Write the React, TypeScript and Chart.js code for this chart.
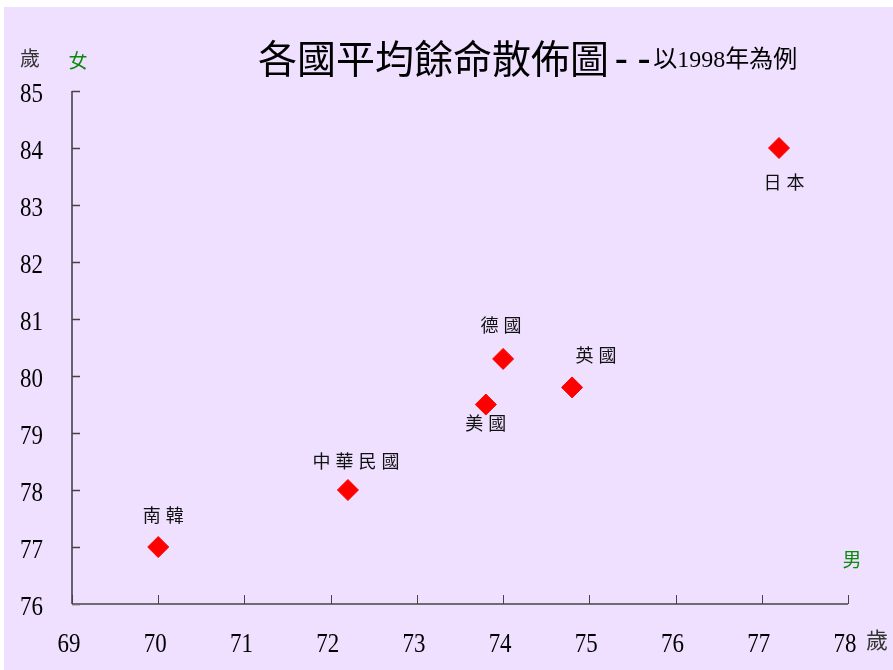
import React, { useEffect, useRef } from 'react';
import { Chart, registerables } from 'chart.js';

Chart.register(...registerables);

const countries = ['南韓', '中華民國', '美國', '德國', '英國', '日本'];
const maleLife = [70.0, 72.2, 73.8, 74.0, 74.8, 77.2];
const femaleLife = [77.0, 78.0, 79.5, 80.3, 79.8, 84.0];
const xTickValues = [69, 70, 71, 72, 73, 74, 75, 76, 77, 78];
const yTickValues = [76, 77, 78, 79, 80, 81, 82, 83, 84, 85];
const xTickLabels = ['69', '70', '71', '72', '73', '74', '75', '76', '77', '78'];
const yTickLabels = ['76', '77', '78', '79', '80', '81', '82', '83', '84', '85'];

// label placement (pixel offsets of each country label from its marker)
const labelDx = [5, 8, 0, -2, 24, 5];
const labelDy = [-32, -29, 19, -34, -32, 34];

const titleMain = '各國平均餘命散佈圖';
const titleDash = '--';
const titleSub = '以1998年為例';
const unitLabel = '歲';
const femaleLabel = '女';
const maleLabel = '男';

const FONT = "'Liberation Serif', 'Noto Sans CJK TC'";
const CJK = "'Noto Sans CJK TC', 'Liberation Serif'";

function condensedText(ctx: CanvasRenderingContext2D, text: string, x: number, y: number, sx: number) {
  ctx.save();
  ctx.translate(x, y);
  ctx.scale(sx, 1);
  ctx.fillText(text, 0, 0);
  ctx.restore();
}

export default function App() {
  const ref = useRef<HTMLCanvasElement | null>(null);

  useEffect(() => {
    if (!ref.current) return;

    const overlay = {
      id: 'overlay',
      beforeDatasetsDraw(chart: any) {
        const ctx = chart.ctx;
        const xs = chart.scales.x;
        const ys = chart.scales.y;
        const { left, right, top, bottom } = chart.chartArea;
        ctx.save();
        // y axis line
        ctx.strokeStyle = '#3a3a3a';
        ctx.lineWidth = 1.5;
        ctx.beginPath();
        ctx.moveTo(left, top);
        ctx.lineTo(left, bottom);
        ctx.stroke();
        // y ticks (inward)
        ctx.strokeStyle = '#444';
        ctx.lineWidth = 1.5;
        yTickValues.forEach((v) => {
          const y = Math.round(ys.getPixelForValue(v)) + 0.5;
          ctx.beginPath();
          ctx.moveTo(left, y);
          ctx.lineTo(left + 8, y);
          ctx.stroke();
        });
        // x axis line
        ctx.strokeStyle = '#6e6e6e';
        ctx.lineWidth = 2;
        ctx.beginPath();
        ctx.moveTo(left, bottom);
        ctx.lineTo(right, bottom);
        ctx.stroke();
        // x ticks (inward)
        ctx.strokeStyle = '#444';
        ctx.lineWidth = 1;
        xTickValues.forEach((v) => {
          const x = Math.round(xs.getPixelForValue(v)) + 0.5;
          ctx.beginPath();
          ctx.moveTo(x, bottom);
          ctx.lineTo(x, bottom - 9);
          ctx.stroke();
        });
        ctx.restore();
      },
      afterDraw(chart: any) {
        const ctx = chart.ctx as CanvasRenderingContext2D;
        const xs = chart.scales.x;
        const ys = chart.scales.y;
        const { left, right, top, bottom } = chart.chartArea;
        ctx.save();
        // tick labels (condensed serif)
        ctx.fillStyle = '#000';
        ctx.font = `27px 'Liberation Serif'`;
        ctx.textBaseline = 'alphabetic';
        ctx.textAlign = 'right';
        yTickValues.forEach((v, i) => {
          condensedText(ctx, yTickLabels[i], left - 29, ys.getPixelForValue(v) + 11, 0.85);
        });
        ctx.textAlign = 'center';
        xTickValues.forEach((v, i) => {
          condensedText(ctx, xTickLabels[i], xs.getPixelForValue(v) - 3, bottom + 48, 0.85);
        });

        ctx.textBaseline = 'middle';
        // country labels
        ctx.fillStyle = '#111';
        ctx.font = `18px ${CJK}`;
        ctx.textAlign = 'center';
        const step = 23;
        countries.forEach((name, i) => {
          const px = xs.getPixelForValue(maleLife[i]) + labelDx[i];
          const py = ys.getPixelForValue(femaleLife[i]) + labelDy[i];
          const chars = Array.from(name);
          chars.forEach((c, k) => {
            ctx.fillText(c, px + (k - (chars.length - 1) / 2) * step, py);
          });
        });
        // title
        ctx.textAlign = 'left';
        ctx.fillStyle = '#000';
        ctx.font = `39px ${CJK}`;
        let tx = left + 186;
        const ty = top - 33;
        ctx.fillText(titleMain, tx, ty);
        tx += ctx.measureText(titleMain).width + 6;
        ctx.font = `bold 38px 'Liberation Serif'`;
        (ctx as any).letterSpacing = '10px';
        ctx.fillText(titleDash, tx, ty + 2);
        tx += ctx.measureText(titleDash).width - 7;
        (ctx as any).letterSpacing = '0px';
        ctx.font = `24px ${FONT}`;
        ctx.fillText(titleSub, tx, ty + 3);
        // unit labels
        ctx.textAlign = 'center';
        ctx.fillStyle = '#333';
        ctx.font = `20px ${CJK}`;
        ctx.fillText(unitLabel, left - 42, top - 33);
        ctx.font = `22px ${CJK}`;
        ctx.fillText(unitLabel, right + 29, bottom + 36);
        ctx.fillStyle = '#0a8a0a';
        ctx.font = `19px ${CJK}`;
        ctx.fillText(femaleLabel, left + 6, top - 30);
        ctx.fillText(maleLabel, right + 4, bottom - 44);
        ctx.restore();
      },
    };

    const chart = new Chart(ref.current, {
      type: 'scatter',
      data: {
        datasets: [
          {
            label: '平均餘命',
            data: maleLife.map((m, i) => ({ x: m, y: femaleLife[i] })),
            pointStyle: 'rectRot',
            pointRadius: 10.5,
            pointHoverRadius: 10.5,
            backgroundColor: '#ff0000',
            borderColor: '#ff0000',
            borderWidth: 1,
          },
        ],
      },
      options: {
        animation: false,
        responsive: false,
        maintainAspectRatio: false,
        events: [],
        layout: { padding: { top: 84, right: 45, left: 0, bottom: 0 } },
        plugins: {
          legend: { display: false },
          tooltip: { enabled: false },
          title: { display: false },
        },
        scales: {
          x: {
            type: 'linear',
            min: 69,
            max: 78,
            afterBuildTicks: (s: any) => {
              s.ticks = xTickValues.map((v) => ({ value: v }));
            },
            grid: { display: false, drawTicks: false },
            border: { display: false },
            ticks: { display: false },
            afterFit: (s: any) => {
              s.height = 66;
            },
          },
          y: {
            type: 'linear',
            min: 76,
            max: 85,
            afterBuildTicks: (s: any) => {
              s.ticks = yTickValues.map((v) => ({ value: v }));
            },
            grid: { display: false, drawTicks: false },
            border: { display: false },
            ticks: { display: false },
            afterFit: (s: any) => {
              s.width = 68;
            },
          },
        },
      },
      plugins: [overlay],
    });

    return () => chart.destroy();
  }, []);

  return (
    <div
      style={{
        position: 'absolute',
        left: 4,
        top: 7,
        width: 889,
        height: 663,
        background: 'rgb(238,224,254)',
      }}
    >
      <canvas ref={ref} width={889} height={663} style={{ display: 'block' }} />
    </div>
  );
}
